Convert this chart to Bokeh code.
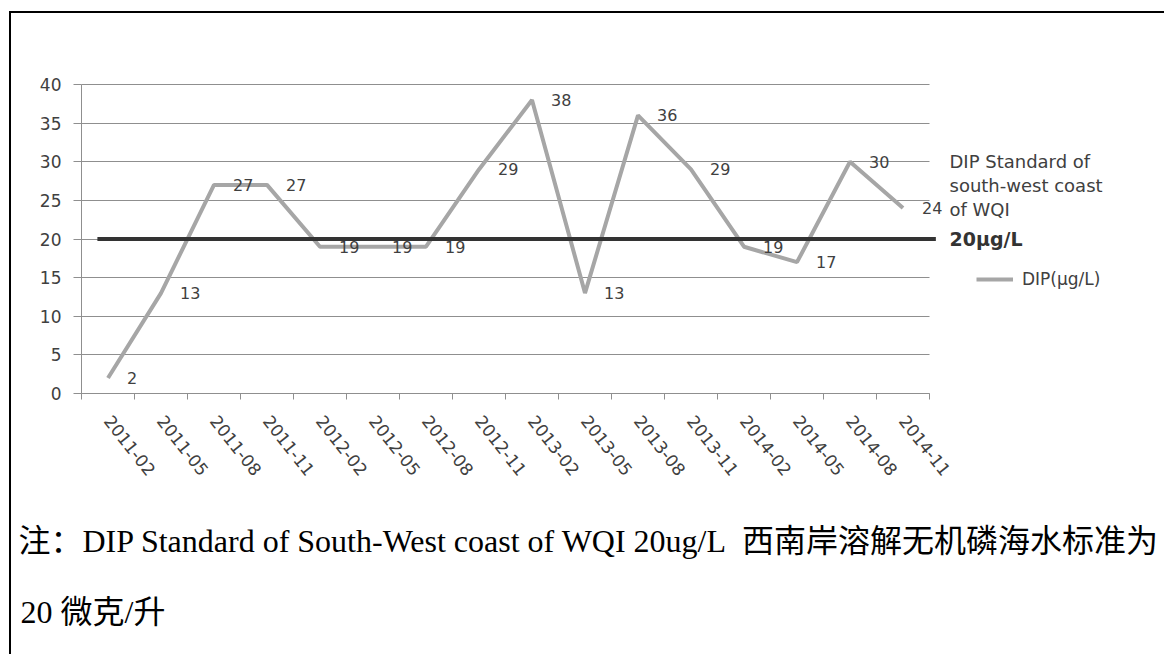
from bokeh.plotting import figure
from bokeh.models import (Range1d, FixedTicker, Legend, LegendItem, Label, CustomJSTickFormatter)
from bokeh.core.properties import value
from bokeh.embed import file_html
from bokeh.resources import INLINE

# ---- data ----
dates = ["2011-02", "2011-05", "2011-08", "2011-11", "2012-02", "2012-05", "2012-08", "2012-11",
         "2013-02", "2013-05", "2013-08", "2013-11", "2014-02", "2014-05", "2014-08", "2014-11"]
dip = [2, 13, 27, 27, 19, 19, 19, 29, 38, 13, 36, 29, 19, 17, 30, 24]
dip_labels = [str(v) for v in dip]
standard = 20
y_ticks = [0, 5, 10, 15, 20, 25, 30, 35, 40]
legend_label = "DIP(μg/L)"
std_lines = ["DIP Standard of", "south-west coast", "of WQI"]
std_value_text = "20μg/L"
note_line1 = "注：DIP Standard of South-West coast of WQI 20ug/L\u00a0\u00a0西南岸溶解无机磷海水标准为"
note_line2 = "20 微克/升"

n = len(dates)
xc = [i + 0.5 for i in range(n)]       # band centres
bounds = list(range(n + 1))            # band boundaries
y_max = y_ticks[-1]

# ---- layout (pixels on the canvas) ----
W, H = 1155, 643
PL, PR, PT, PB = 70, 918, 71, 380      # plot area edges
sx = (PR - PL) / n
sy = (PB - PT) / y_max
x_range = Range1d(-PL / sx, (W - PL) / sx)
y_range = Range1d(-(H - PB) / sy, y_max + PT / sy)

GRID = "#8f8f8f"
TXT = "#404040"

p = figure(width=W, height=H, x_range=x_range, y_range=y_range,
           output_backend="svg", toolbar_location=None,
           min_border_left=0, min_border_right=0, min_border_top=0, min_border_bottom=0)
p.outline_line_color = None
p.background_fill_color = "white"
p.border_fill_color = "white"
p.styles = {"border-left": "2px solid black", "border-top": "2px solid black",
            "margin-left": "9px", "margin-top": "11px"}

# y axis
ya = p.yaxis[0]
ya.fixed_location = 0
ya.bounds = (0, y_max)
ya.ticker = FixedTicker(ticks=y_ticks)
ya.axis_line_color = GRID
ya.major_tick_line_color = GRID
ya.major_tick_out = 8
ya.major_tick_in = 0
ya.minor_tick_line_color = None
ya.major_label_standoff = 12
ya.major_label_text_font = "DejaVu Sans"
ya.major_label_text_font_size = "17px"
ya.major_label_text_color = TXT
p.ygrid.ticker = FixedTicker(ticks=y_ticks)
p.ygrid.bounds = (0, y_max)
p.ygrid.cross_bounds = (0, n)
p.ygrid.grid_line_color = GRID
p.ygrid.grid_line_width = 1
p.xgrid.grid_line_color = None

# x axis: labels at band centres (major), tick marks at band boundaries (minor)
xa = p.xaxis[0]
xa.fixed_location = 0
xa.bounds = (0, n)
xa.ticker = FixedTicker(ticks=xc, minor_ticks=bounds)
xa.formatter = CustomJSTickFormatter(args=dict(labels=dates),
                                     code="return labels[Math.floor(tick)] || '';")
xa.axis_line_color = GRID
xa.major_tick_line_color = None
xa.major_tick_out = 0
xa.major_tick_in = 0
xa.minor_tick_line_color = GRID
xa.minor_tick_out = 6
xa.minor_tick_in = 0
xa.major_label_orientation = -0.9
xa.major_label_standoff = 18
xa.major_label_text_font = "DejaVu Sans"
xa.major_label_text_font_size = "17px"
xa.major_label_text_color = TXT

# data line
line_r = p.line(x=xc, y=dip, line_color="#a6a6a6", line_width=4)

# standard line
p.segment(x0=[0.3], y0=[standard], x1=[n + 0.12], y1=[standard],
          line_color="#333333", line_width=4)

# data labels
p.text(x=xc, y=dip, text=dip_labels, x_offset=19, text_align="left", text_baseline="middle",
       text_font=value("DejaVu Sans"), text_font_size="16px", text_color=TXT)

# legend
legend = Legend(items=[LegendItem(label=legend_label, renderers=[line_r])],
                location=(965, 367), padding=0, margin=0, border_line_color=None,
                background_fill_alpha=0, glyph_width=37, glyph_height=18, label_standoff=9,
                label_text_font="DejaVu Sans", label_text_font_size="17px",
                label_text_color=TXT)
p.add_layout(legend, "center")

# standard annotation
for txt, dy in zip(std_lines, [78, 54, 30]):
    p.add_layout(Label(x=n, y=standard, x_offset=20, y_offset=dy, text=txt,
                       text_baseline="middle", text_align="left", text_font="DejaVu Sans",
                       text_font_size="18px", text_color=TXT))
p.add_layout(Label(x=n, y=standard, x_offset=20, y_offset=0, text=std_value_text,
                   text_baseline="middle", text_align="left", text_font="DejaVu Sans",
                   text_font_style="bold", text_font_size="19px", text_color="#333333"))

# footnote
p.add_layout(Label(x=0, y=0, x_offset=-63, y_offset=-147, text=note_line1,
                   text_baseline="middle", text_align="left",
                   text_font="Liberation Serif, Noto Sans CJK SC",
                   text_font_size="32px", text_color="black"))
p.add_layout(Label(x=0, y=0, x_offset=-61, y_offset=-218, text=note_line2,
                   text_baseline="middle", text_align="left",
                   text_font="Liberation Serif, Noto Sans CJK SC",
                   text_font_size="32px", text_color="black"))

open("out.html", "w").write(file_html(p, INLINE))
